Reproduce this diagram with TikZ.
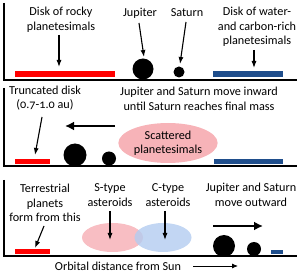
\documentclass[tikz,border=0pt]{standalone}
\usepackage{fontspec}
\setmainfont{Carlito}[Numbers=OldStyle]
\usetikzlibrary{arrows.meta}

\definecolor{rockred}{HTML}{FF0000}
\definecolor{icyblue}{HTML}{1F4E8C}
\definecolor{scatpink}{HTML}{F7B3B8}
\definecolor{ctypeblue}{HTML}{B3CCF0}

\tikzset{
  lbl/.style={align=center, inner sep=1pt, font=\fontsize{12.2}{14.5}\selectfont},
  ptr/.style={-{Latex[length=7pt,width=5pt]}, line width=1.1pt},
  bigarrow/.style={-{Latex[length=9pt,width=9pt]}, line width=2.6pt},
  axisline/.style={line width=1.2pt},
  bar/.style={rectangle, inner sep=0pt, minimum height=#1},
  bar/.default=6,
  planet/.style={circle, fill=black, inner sep=0pt, minimum size=#1},
  cloud/.style={ellipse, inner sep=0pt, minimum width=#1},
}
\usetikzlibrary{shapes.geometric}

\begin{document}
\begin{tikzpicture}[x=1pt, y=-1pt]
  \useasboundingbox (0,0) rectangle (300,275);

  % Panel 1: initial disks
  \draw[axisline] (4,3) -- (4,80) -- (297,80);
  \node[bar=6, fill=rockred, minimum width=100] (rock1) at (65,74) {};
  \node[planet=21] (jup1) at (143,69) {};
  \node[planet=11] (sat1) at (179,72) {};
  \node[bar=6, fill=icyblue, minimum width=70] (icy1) at (248,74) {};

  \node[lbl] (rocky) at (61,20) {Disk of rocky\\planetesimals};
  \node[lbl] (jupname) at (140,13) {Jupiter};
  \node[lbl] (satname) at (187,13) {Saturn};
  \node[lbl] (water) at (257,27) {Disk of water-\\and carbon-rich\\planetesimals};

  \draw[ptr] (59,35) -- (59,67);
  \draw[ptr] (139,23) -- (144,57);
  \draw[ptr] (186,22) -- (180,64);
  \draw[ptr] (254,50) -- (254,68);

  % Panel 2: inward migration
  \draw[axisline] (4,88) -- (4,166) -- (297,166);
  \node[bar=5, fill=rockred, minimum width=35] (rock2) at (32.5,161.5) {};
  \node[planet=23] (jup2) at (75,155) {};
  \node[planet=14] (sat2) at (109,158.5) {};
  \node[cloud=70, minimum height=40, fill=scatpink, lbl] (scat) at (168,143) {Scattered\\planetesimals};
  \node[bar=5, fill=icyblue, minimum width=69] (icy2) at (248.5,161.5) {};

  \node[lbl] (trunc) at (45,98) {Truncated disk\\(0.7-1.0 au)};
  \node[lbl] (inward) at (199,99) {Jupiter and Saturn move inward\\until Saturn reaches final mass};

  \coordinate (inA) at (115,126);
  \coordinate (inB) at (65,126);
  \draw[bigarrow] (inA) -- (inB);
  \draw[ptr] (42,117) -- (35,155);

  % Panel 3: outward migration
  \draw[axisline] (4,180) -- (4,256) -- (297,256);
  \node[bar=5, fill=rockred, minimum width=35] (rock3) at (32.5,251.5) {};
  \node[cloud=61, minimum height=29, fill=scatpink, opacity=0.85] (stype) at (112.5,237.5) {};
  \node[cloud=57, minimum height=29, fill=ctypeblue, opacity=0.8] (ctype) at (163,237.5) {};
  \node[planet=22] (jup3) at (224,246) {};
  \node[planet=14] (sat3) at (254,249) {};
  \node[bar=4, fill=icyblue, minimum width=12] (icy3) at (277,252) {};

  \node[lbl] (terr) at (45,203) {Terrestrial\\planets\\form from this};
  \node[lbl] (sname) at (110,195) {S-type\\asteroids};
  \node[lbl] (cname) at (168,195) {C-type\\asteroids};
  \node[lbl] (outward) at (251,195) {Jupiter and Saturn\\move outward};

  \draw[ptr] (44,226) -- (35,248);
  \draw[ptr] (110,211) -- (110,240);
  \draw[ptr] (165,211) -- (165,240);

  \coordinate (outA) at (213,226);
  \coordinate (outB) at (263,226);
  \draw[bigarrow] (outA) -- (outB);

  % axis caption
  \node[lbl] (orbit) at (118,266) {Orbital distance from Sun};
  \coordinate (orbStart) at (193,266);
  \coordinate (orbEnd) at (238,266);
  \draw[-{Latex[length=6pt,width=5pt]}, line width=0.8pt] (orbStart) -- (orbEnd);
\end{tikzpicture}
\end{document}
